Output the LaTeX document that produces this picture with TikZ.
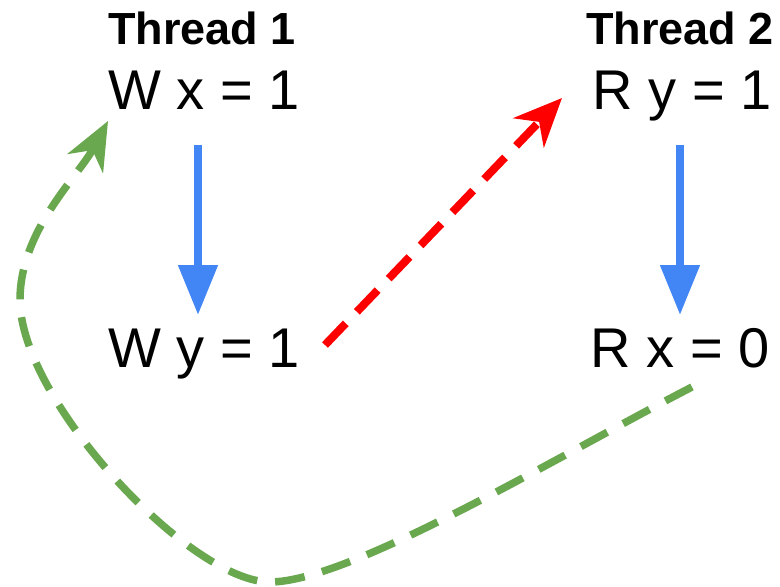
\documentclass[tikz,border=0pt]{standalone}
\usepackage{fontspec}
\setmainfont{Liberation Sans}
\usetikzlibrary{arrows.meta}
\definecolor{flowblue}{HTML}{4285F4}
\definecolor{hbgreen}{HTML}{6AA84F}
\begin{document}
\begin{tikzpicture}[x=1pt,y=-1pt,
  op/.style={anchor=base,inner sep=0pt,font=\fontsize{56}{60}\selectfont},
  thr/.style={anchor=base,inner sep=0pt,font=\fontsize{45}{50}\selectfont\bfseries},
  po/.style={draw=flowblue,line width=8pt,-{Triangle[length=50pt,width=38pt]}},
  rf/.style={draw=red,line width=8pt,dash pattern=on 30pt off 16pt,-{Stealth[length=48pt,width=42pt,inset=15pt]}},
  hb/.style={draw=hbgreen,line width=7.5pt,dash pattern=on 30pt off 18pt,-{Stealth[length=48pt,width=40pt,inset=15pt]}}]

\useasboundingbox (0,0) rectangle (780,587);

\node[thr] (t1) at (202,44) {Thread 1};
\node[thr] (t2) at (680,44) {Thread 2};

\node[op] (wx) at (204,109) {W x = 1};
\node[op] (wy) at (204,367) {W y = 1};
\node[op] (ry) at (682,109) {R y = 1};
\node[op] (rx) at (680,367) {R x = 0};

% end points of the arrows
\coordinate (wxs) at (198,145);
\coordinate (wyn) at (198,315);
\coordinate (rys) at (680,145);
\coordinate (rxn) at (680,315);
\coordinate (wye) at (325,345);
\coordinate (ryw) at (562,98);
\coordinate (rxe) at (692,387);
\coordinate (wxw) at (108,121);

\draw[po] (wxs) -- (wyn);
\draw[po] (rys) -- (rxn);

\draw[rf] (wye) -- (ryw);

\draw[hb] (rxe) .. controls (560,455) and (350,582) .. (270,582)
  .. controls (190,582) and (20,400) .. (20,300)
  .. controls (20,230) and (78,177) .. (wxw);
\end{tikzpicture}
\end{document}
